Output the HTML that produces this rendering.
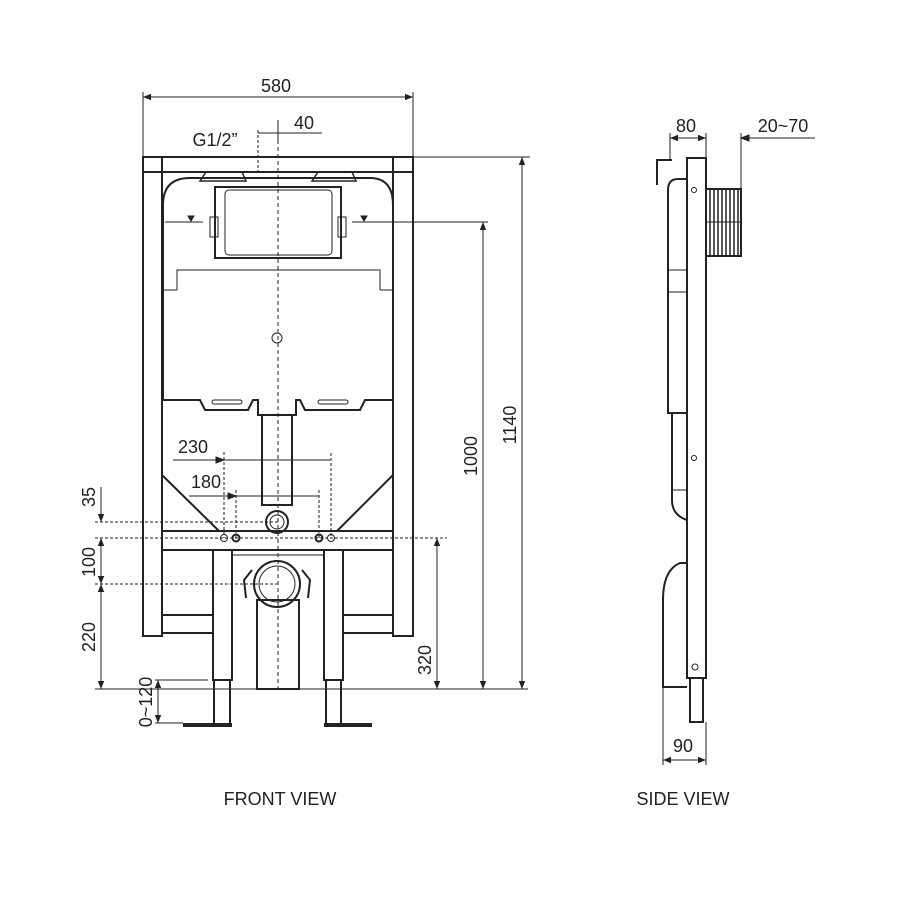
<!DOCTYPE html>
<html><head><meta charset="utf-8"><style>
html,body{margin:0;padding:0;background:#fff}
svg{display:block}
text{font-family:"Liberation Sans",sans-serif;fill:#222;font-size:18px}
</style></head><body>
<svg width="900" height="900" viewBox="0 0 900 900" xmlns="http://www.w3.org/2000/svg">
<defs>
<marker id="a" viewBox="0 0 10 10" refX="10" refY="5" markerWidth="8" markerHeight="8" orient="auto-start-reverse"><path d="M0,1 L10,5 L0,9 z" fill="#222"/></marker>
</defs>
<g stroke="#222" fill="none" stroke-width="1">
<line x1="143" y1="92" x2="143" y2="157"/><line x1="413" y1="92" x2="413" y2="157"/>
<line x1="143" y1="97" x2="413" y2="97" marker-start="url(#a)" marker-end="url(#a)"/>
<line x1="258" y1="130" x2="258" y2="175" stroke-dasharray="3,2"/>
<line x1="258" y1="133" x2="322" y2="133"/>
<line x1="278" y1="120" x2="278" y2="140"/>
<line x1="278" y1="140" x2="278" y2="690" stroke-dasharray="4,3"/>
<g stroke-width="2">
<rect x="143" y="157" width="270" height="15"/>
<rect x="143" y="157" width="19" height="479"/>
<rect x="393" y="157" width="20" height="479"/>
<path d="M163,400 L163,205 Q163,178 190,178 L215,178 L370,178 Q393,178 393,205 L393,400 L365,400 L360,410 L305,410 L300,400 L296,400 L296,415 L258,415 L258,400 L253,400 L248,410 L205,410 L200,400 Z"/>
<rect x="215" y="187" width="126" height="71"/>
<rect x="262" y="415" width="30" height="90"/>
<rect x="162" y="531" width="231" height="19"/>
<rect x="213" y="550" width="19" height="130"/>
<rect x="324" y="550" width="19" height="130"/>
<rect x="162" y="615" width="51" height="18"/>
<rect x="343" y="615" width="50" height="18"/>
<rect x="257" y="600" width="42" height="89"/>
<circle cx="277" cy="584" r="23"/>
<circle cx="277" cy="522" r="11"/>
<line x1="183" y1="725" x2="232" y2="725" stroke-width="4"/>
<line x1="324" y1="725" x2="372" y2="725" stroke-width="4"/>
</g>
<circle cx="277" cy="584" r="18"/>
<circle cx="277" cy="522" r="7"/>
<rect x="225" y="190" width="107" height="65" rx="4"/>
<path d="M200,181 L206,172 L242,172 L246,181 Z M312,181 L318,172 L352,172 L356,181 Z" stroke-width="1.5"/>
<path d="M177,290 L177,270 L380,270 L380,290"/>
<path d="M162,290 L177,290 M380,290 L393,290"/>
<line x1="165" y1="222" x2="203" y2="222"/><line x1="352" y1="222" x2="392" y2="222"/>
<path d="M188,216 L194,216 L191,221 z M361,216 L367,216 L364,221 z" fill="#222"/>
<line x1="392" y1="222" x2="488" y2="222"/>
<line x1="413" y1="157" x2="530" y2="157"/>
<rect x="210" y="217" width="8" height="20"/><rect x="338" y="217" width="8" height="20"/>
<circle cx="277" cy="338" r="5"/>
<rect x="212" y="400" width="30" height="4" rx="2"/><rect x="318" y="400" width="30" height="4" rx="2"/>
<line x1="162" y1="475" x2="219" y2="531" stroke-width="2"/>
<line x1="393" y1="475" x2="337" y2="531" stroke-width="2"/>
<circle cx="224" cy="538" r="3.5"/><circle cx="236" cy="538" r="3.5" stroke-width="2"/>
<circle cx="319" cy="538" r="3.5" stroke-width="2"/><circle cx="331" cy="538" r="3.5"/>
<line x1="232" y1="555" x2="324" y2="555"/>
<path d="M252,570 L244,580 L246,598 M302,570 L310,580 L308,598" stroke-width="2"/>
<line x1="214" y1="680" x2="214" y2="723" stroke-width="2"/><line x1="230" y1="680" x2="230" y2="723" stroke-width="2"/>
<line x1="326" y1="680" x2="326" y2="723" stroke-width="2"/><line x1="341" y1="680" x2="341" y2="723" stroke-width="2"/>
<line x1="173" y1="460" x2="330" y2="460"/><path d="M216,457 L224,460 L216,463z" fill="#222"/>
<line x1="224" y1="452" x2="224" y2="538" stroke-dasharray="3,2"/><line x1="331" y1="453" x2="331" y2="538" stroke-dasharray="3,2"/>
<line x1="189" y1="496" x2="319" y2="496"/><path d="M228,493 L236,496 L228,499z" fill="#222"/>
<line x1="236" y1="490" x2="236" y2="538" stroke-dasharray="3,2"/><line x1="319" y1="490" x2="319" y2="538" stroke-dasharray="3,2"/>
<line x1="95" y1="522" x2="280" y2="522" stroke-dasharray="3,2"/>
<line x1="95" y1="538" x2="447" y2="538" stroke-dasharray="3,2"/>
<line x1="95" y1="584" x2="277" y2="584" stroke-dasharray="3,2"/>
<line x1="95" y1="689" x2="528" y2="689"/>
<line x1="101" y1="487" x2="101" y2="522" marker-end="url(#a)"/>
<line x1="101" y1="538" x2="101" y2="584" marker-start="url(#a)" marker-end="url(#a)"/>
<line x1="101" y1="584" x2="101" y2="689" marker-start="url(#a)" marker-end="url(#a)"/>
<line x1="437" y1="538" x2="437" y2="689" marker-start="url(#a)" marker-end="url(#a)"/>
<line x1="483" y1="222" x2="483" y2="689" marker-start="url(#a)" marker-end="url(#a)"/>
<line x1="522" y1="157" x2="522" y2="689" marker-start="url(#a)" marker-end="url(#a)"/>
<line x1="155" y1="680" x2="208" y2="680"/><line x1="155" y1="723" x2="183" y2="723"/>
<line x1="158" y1="680" x2="158" y2="723" marker-start="url(#a)" marker-end="url(#a)"/>
<g stroke-width="2">
<rect x="687" y="158" width="19" height="520"/>
<rect x="690" y="678" width="13" height="44"/>
<path d="M687,413 L668,413 L668,190 Q668,179 678,179 L687,179"/>
<path d="M672,413 L672,500 Q672,515 687,520"/>
<path d="M687,563 L680,563 Q663,570 663,600 L663,687 L687,687"/>
<rect x="706" y="189" width="35" height="67"/>
<path d="M672,160 L657,160 L657,185"/>
</g>
<path d="M710,190 L710,256 M714,190 L714,256 M718,190 L718,256 M722,190 L722,256 M726,190 L726,256 M730,190 L730,256 M734,190 L734,256 M738,190 L738,256" stroke-width="1.5"/>
<line x1="706" y1="222" x2="741" y2="222"/>
<rect x="668" y="270" width="19" height="22"/>
<line x1="672" y1="413" x2="687" y2="413"/><line x1="672" y1="490" x2="687" y2="490"/>
<circle cx="694" cy="190" r="2.5"/><circle cx="694" cy="458" r="2.5"/><circle cx="695" cy="667" r="3"/>
<line x1="670" y1="133" x2="670" y2="160"/><line x1="706" y1="133" x2="706" y2="158"/><line x1="741" y1="133" x2="741" y2="189"/>
<line x1="670" y1="138" x2="706" y2="138" marker-start="url(#a)" marker-end="url(#a)"/>
<line x1="741" y1="138" x2="815" y2="138"/><path d="M749,135 L741,138 L749,141z" fill="#222"/>
<line x1="663" y1="687" x2="663" y2="765"/><line x1="706" y1="722" x2="706" y2="765"/>
<line x1="663" y1="760" x2="706" y2="760" marker-start="url(#a)" marker-end="url(#a)"/>
</g>
<text x="276" y="92" text-anchor="middle">580</text>
<text x="215" y="146" text-anchor="middle">G1/2”</text>
<text x="304" y="129" text-anchor="middle">40</text>
<text x="193" y="453" text-anchor="middle">230</text>
<text x="206" y="488" text-anchor="middle">180</text>
<text transform="translate(95,497) rotate(-90)" text-anchor="middle">35</text>
<text transform="translate(95,562) rotate(-90)" text-anchor="middle">100</text>
<text transform="translate(95,637) rotate(-90)" text-anchor="middle">220</text>
<text transform="translate(152,702) rotate(-90)" text-anchor="middle">0~120</text>
<text transform="translate(431,660) rotate(-90)" text-anchor="middle">320</text>
<text transform="translate(477,456) rotate(-90)" text-anchor="middle">1000</text>
<text transform="translate(516,425) rotate(-90)" text-anchor="middle">1140</text>
<text x="686" y="132" text-anchor="middle">80</text>
<text x="783" y="132" text-anchor="middle">20~70</text>
<text x="683" y="752" text-anchor="middle">90</text>
<text x="280" y="805" text-anchor="middle">FRONT VIEW</text>
<text x="683" y="805" text-anchor="middle">SIDE VIEW</text>
</svg>
</body></html>
